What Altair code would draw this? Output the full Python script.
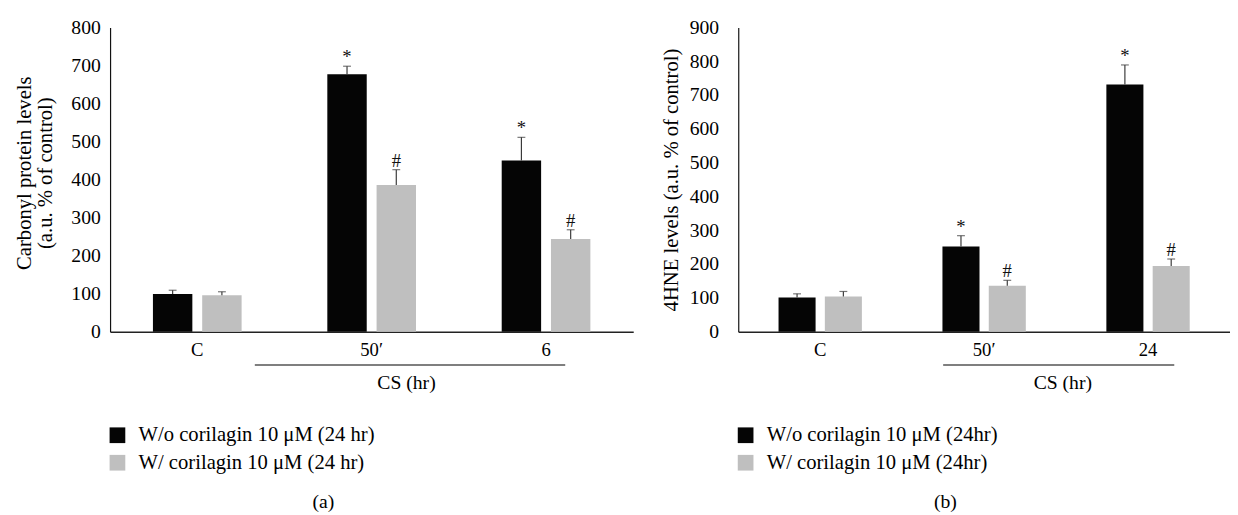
import altair as alt
import pandas as pd

FONT = "Liberation Serif"

# ---- panel (a) data ----
cats_a = ["C", "50′", "6"]
series_a = ["W/o corilagin 10 μM (24 hr)", "W/ corilagin 10 μM (24 hr)"]
wo_a = [99, 677, 450]
wo_a_err = [10, 21, 61]
w_a = [96, 386, 244]
w_a_err = [9, 40, 24]
wo_a_sig = ["", "*", "*"]
w_a_sig = ["", "#", "#"]

# ---- panel (b) data ----
cats_b = ["C", "50′", "24"]
series_b = ["W/o corilagin 10 μM (24hr)", "W/ corilagin 10 μM (24hr)"]
wo_b = [101, 252, 731]
wo_b_err = [11, 32, 58]
w_b = [104, 136, 194]
w_b_err = [15, 16, 21]
wo_b_sig = ["", "*", "*"]
w_b_sig = ["", "#", "#"]

COLORS = ["#050505", "#bfbfbf"]


def make_panel(cats, series, wo, wo_err, w, w_err, wo_sig, w_sig, ytitle, ymax,
               width, label_pad, title_pad, title_y, br_start, br_end, cs_pos, caption):
    rows = []
    for i, c in enumerate(cats):
        rows.append({"cat": c, "series": series[0], "value": wo[i], "err": wo_err[i], "sig": wo_sig[i]})
        rows.append({"cat": c, "series": series[1], "value": w[i], "err": w_err[i], "sig": w_sig[i]})
    df = pd.DataFrame(rows)
    df["hi"] = df["value"] + df["err"]

    xscale = alt.Scale(domain=cats, paddingInner=0, paddingOuter=0)
    yscale = alt.Scale(domain=[0, ymax], nice=False)
    xaxis = alt.Axis(title=None, labelAngle=0, labelPadding=9, labelFontSize=19,
                     domainColor="#222", domainWidth=1.4)
    yaxis = alt.Axis(values=list(range(0, ymax + 1, 100)), title=ytitle,
                     labelOverlap=False, labelFontSize=20, labelFont=FONT,
                     labelPadding=label_pad, titlePadding=title_pad, titleY=title_y,
                     titleFontSize=21, titleLineHeight=21.5, tickCount=len(range(0, ymax + 1, 100)),
                     domainColor="#111", domainWidth=1.2)
    xoff = alt.XOffset("series:N", sort=series,
                       scale=alt.Scale(domain=series, paddingInner=0.2, paddingOuter=0.87))

    def X(field="cat"):
        return alt.X(f"{field}:N", sort=cats, scale=xscale, axis=xaxis)

    base = alt.Chart(df)
    bars = base.mark_bar().encode(
        x=X(), xOffset=xoff,
        y=alt.Y("value:Q", scale=yscale, axis=yaxis),
        color=alt.Color("series:N", sort=series,
                        scale=alt.Scale(domain=series, range=COLORS),
                        legend=alt.Legend(orient="none", legendX=-3, legendY=405,
                                          direction="vertical", title=None,
                                          symbolType="square", symbolSize=256,
                                          symbolStrokeWidth=0, labelFontSize=21,
                                          labelFont=FONT, labelLimit=400,
                                          rowPadding=6, labelOffset=11, padding=0)),
    )
    errs = base.mark_rule(color="#3a3a3a", strokeWidth=1.2).encode(
        x=X(), xOffset=xoff,
        y=alt.Y("value:Q", scale=yscale, axis=yaxis), y2="hi:Q")
    caps = base.mark_tick(color="#3a3a3a", size=8, thickness=1.2).encode(
        x=X(), xOffset=xoff,
        y=alt.Y("hi:Q", scale=yscale, axis=yaxis))
    sig = base.mark_text(font=FONT, fontSize=19, baseline="alphabetic", dy=-3,
                         color="#111").encode(
        x=X(), xOffset=xoff,
        y=alt.Y("hi:Q", scale=yscale, axis=yaxis), text="sig:N")

    br_df = pd.DataFrame([{"start": br_start[0], "end": br_end[0], "mid": cs_pos[0],
                           "lab": "CS (hr)", "zero": 0}])
    bracket = alt.Chart(br_df).mark_rule(color="#555", strokeWidth=1.5, yOffset=34).encode(
        x=alt.X("start:N", sort=cats, scale=xscale, axis=xaxis, bandPosition=br_start[1]),
        x2=alt.X2("end:N", bandPosition=br_end[1]),
        y=alt.Y("zero:Q", scale=yscale, axis=yaxis))
    cs = alt.Chart(br_df).mark_text(font=FONT, fontSize=20, baseline="middle", dy=52,
                                    color="#000").encode(
        x=alt.X("mid:N", sort=cats, scale=xscale, axis=xaxis, bandPosition=cs_pos[1]),
        y=alt.Y("zero:Q", scale=yscale, axis=yaxis), text="lab:N")

    return alt.layer(bars, errs, caps, sig, bracket, cs).properties(
        width=width, height=310,
        title=alt.TitleParams(caption, orient="bottom", anchor="middle", fontSize=20,
                              font=FONT, fontWeight="normal", offset=20, frame="bounds",
                              color="#000"),
    )


left = make_panel(cats_a, series_a, wo_a, wo_a_err, w_a, w_a_err, wo_a_sig, w_a_sig,
                  ["Carbonyl protein levels", "(a.u. % of control)"], 800,
                  533, 10, 16, 148, ("C", 0.83), ("6", 0.61), ("50′", 0.70), "(a)")
right = make_panel(cats_b, series_b, wo_b, wo_b_err, w_b, w_b_err, wo_b_sig, w_b_sig,
                   "4HNE levels (a.u. % of control)", 900,
                   501, 20, 8, 155, ("50′", 0.25), ("24", 0.66), ("50′", 0.98), "(b)")

chart = alt.hconcat(left, right, spacing=28).resolve_scale(
    color="independent", x="independent", y="independent", xOffset="independent"
).resolve_legend(color="independent").properties(
    padding={"left": 5, "top": 5, "right": 0, "bottom": 0}
).configure_view(stroke=None).configure_axis(
    grid=False, ticks=False, labelFont=FONT, titleFont=FONT, labelFontSize=20,
    titleFontSize=21, titleFontWeight="normal", labelColor="#000", titleColor="#000"
).configure_legend(labelColor="#000")

chart.save("out.html", embed_options={"renderer": "svg", "actions": False})
